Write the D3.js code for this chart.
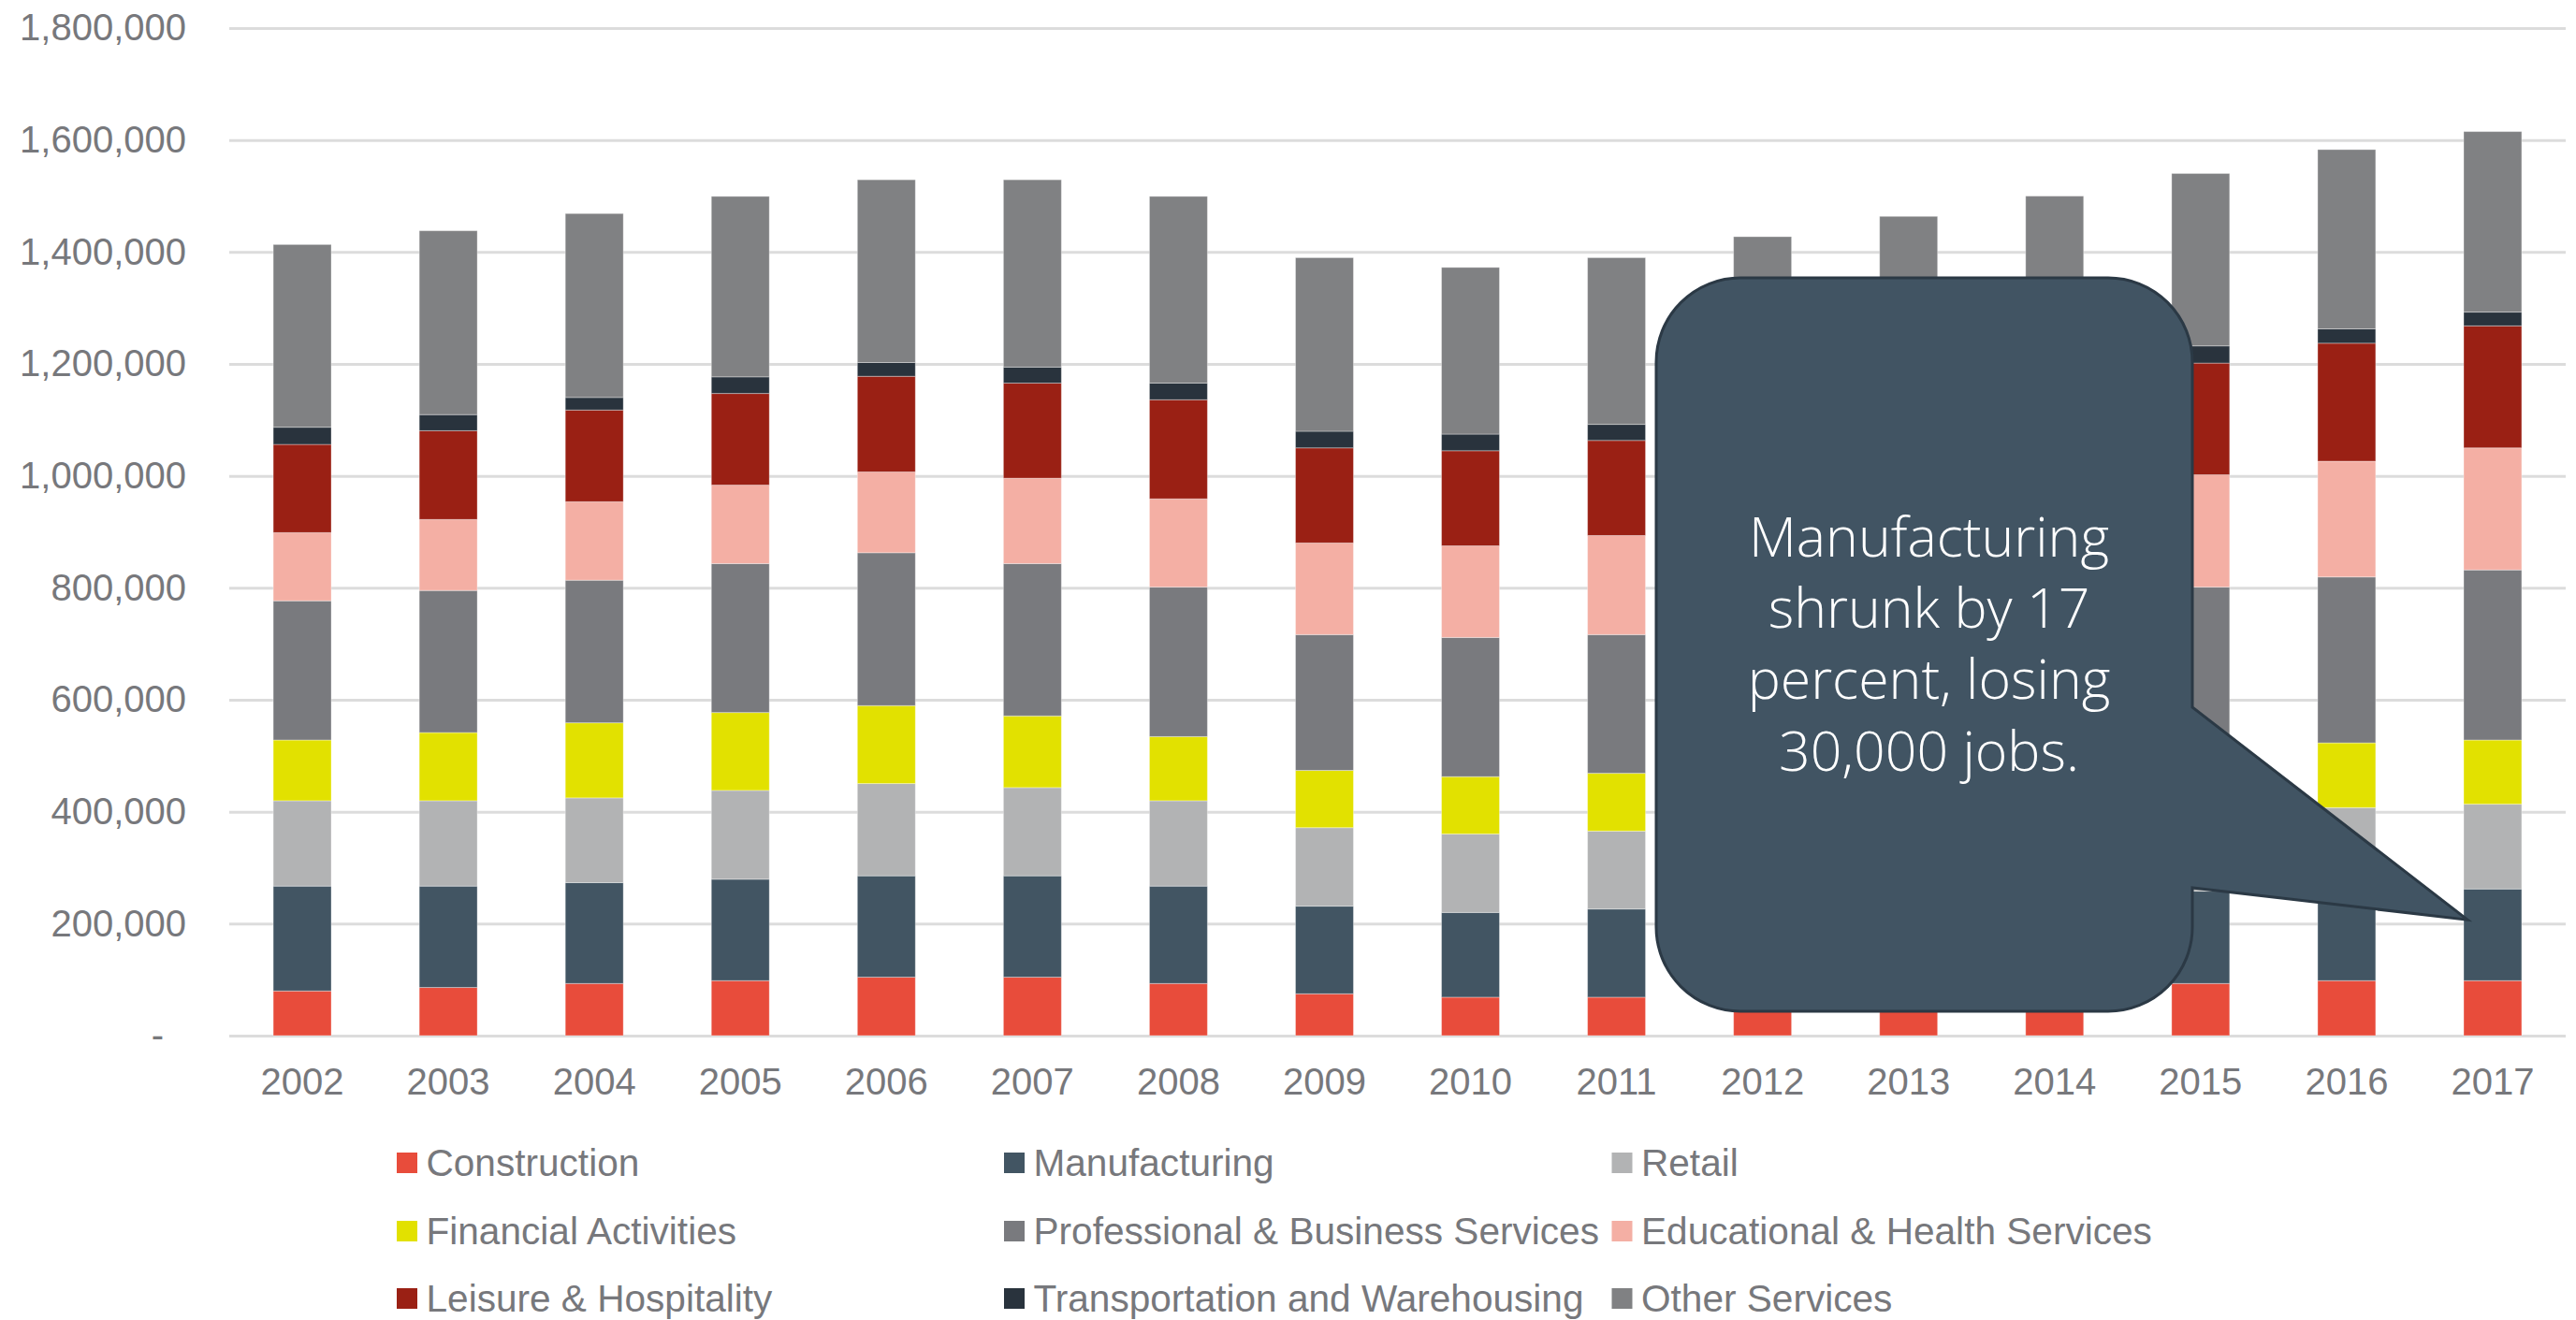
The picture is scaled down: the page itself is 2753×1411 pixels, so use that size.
<!DOCTYPE html>
<html>
<head>
<meta charset="utf-8">
<script src="https://cdn.jsdelivr.net/npm/d3@7"></script>
<style>
  html, body { margin: 0; padding: 0; background: #ffffff; }
  svg { display: block; }
  .tick text { font-family: "Liberation Sans", Arial, sans-serif; }
</style>
</head>
<body>
<svg id="chart" width="2753" height="1411"></svg>
<script>
// Employment by industry, 2002–2017
const years = ["2002","2003","2004","2005","2006","2007","2008","2009","2010","2011","2012","2013","2014","2015","2016","2017"];

const construction   = [79800, 86000, 93100, 98200, 104400, 104400, 93100, 74700, 68600, 68600, 75000, 82000, 88000, 93100, 98200, 98200];
const manufacturing  = [187300, 181100, 180200, 181200, 181100, 181100, 174000, 156600, 151400, 157600, 158000, 160000, 162000, 165000, 163800, 163800];
const retail         = [152500, 152500, 151400, 158600, 164800, 157600, 152500, 140200, 140200, 139200, 141000, 143000, 146000, 148000, 145300, 151500];
const financial      = [108500, 121800, 134100, 139200, 139200, 128000, 114600, 102300, 102400, 103300, 105000, 107000, 109000, 112000, 115700, 114600];
const professional   = [248700, 253800, 254800, 266100, 273200, 272200, 267100, 242600, 248700, 247700, 258000, 266000, 275000, 283200, 296400, 303900];
const educational    = [121800, 126900, 140200, 140200, 144300, 152500, 157600, 163700, 163700, 177000, 182000, 188000, 194000, 200600, 206800, 218000];
const leisure        = [157600, 158600, 163800, 163700, 170900, 169900, 177100, 169900, 169900, 169900, 178000, 185000, 192000, 199600, 210800, 218000];
const transportation = [30700, 28700, 22500, 29700, 24600, 28600, 29700, 29700, 29700, 28700, 29000, 29000, 30000, 30700, 25600, 24600];
const otherServices  = [326400, 328500, 328500, 322400, 326500, 334700, 333600, 310100, 297800, 297800, 301300, 303600, 303800, 308000, 320300, 322500];

const seriesNames = [
  "Construction", "Manufacturing", "Retail",
  "Financial Activities", "Professional & Business Services", "Educational & Health Services",
  "Leisure & Hospitality", "Transportation and Warehousing", "Other Services"
];
const seriesValues = [construction, manufacturing, retail, financial, professional, educational, leisure, transportation, otherServices];
const seriesColors = ["#e84c3b", "#425563", "#b2b3b4", "#e2e100", "#797a7e", "#f4afa4", "#9a2014", "#29333d", "#808183"];

const yTicks = [0, 200000, 400000, 600000, 800000, 1000000, 1200000, 1400000, 1600000, 1800000];

const calloutLines = ["Manufacturing", "shrunk by 17", "percent, losing", "30,000 jobs."];

// rows for the stack layout
const rows = years.map((yr, i) => {
  const r = { year: yr };
  seriesNames.forEach((s, k) => { r[s] = seriesValues[k][i]; });
  return r;
});

const svg = d3.select("#chart");
const plot = { left: 245, right: 2742, top: 30, bottom: 1107 };
const textGray = "#77787c";

const x = d3.scaleBand().domain(years).range([plot.left, plot.right])
  .paddingInner(0.603).paddingOuter(0.3015);
const y = d3.scaleLinear().domain([0, 1800000]).range([plot.bottom, plot.top]);
const color = d3.scaleOrdinal().domain(seriesNames).range(seriesColors);

// gridlines + value labels
const yAxis = svg.append("g")
  .attr("transform", `translate(${plot.left},0)`)
  .call(d3.axisLeft(y).tickValues(yTicks)
    .tickSize(-(plot.right - plot.left))
    .tickPadding(46)
    .tickFormat(d => d === 0 ? "-" : d3.format(",")(d)));
yAxis.select(".domain").remove();
yAxis.selectAll(".tick line").attr("stroke", "#dcdcdc").attr("stroke-width", 3);
yAxis.selectAll(".tick text")
  .attr("fill", textGray).attr("font-size", 40)
  .filter(d => d === 0).attr("x", -70);

// stacked bars
const stacked = d3.stack().keys(seriesNames)(rows);
svg.append("g").selectAll("g").data(stacked).join("g")
  .attr("fill", d => color(d.key))
  .selectAll("rect").data(d => d).join("rect")
  .attr("x", d => x(d.data.year))
  .attr("width", x.bandwidth())
  .attr("y", d => y(d[1]))
  .attr("height", d => y(d[0]) - y(d[1]))
  .attr("stroke", "#ffffff").attr("stroke-opacity", 0.35).attr("stroke-width", 1);

// year labels
const xAxis = svg.append("g")
  .attr("transform", `translate(0,${plot.bottom})`)
  .call(d3.axisBottom(x).tickSize(0).tickPadding(35));
xAxis.select(".domain").remove();
xAxis.selectAll(".tick text").attr("fill", textGray).attr("font-size", 40);

// legend: three columns, filled row by row
const legend = svg.append("g").attr("font-family", "'Liberation Sans', Arial, sans-serif")
  .attr("font-size", 40.6).attr("fill", textGray);
const legCols = [424, 1073, 1722.5];
const legRows = [1257, 1330, 1402];
seriesNames.forEach((s, i) => {
  const gx = legCols[i % 3], gy = legRows[Math.floor(i / 3)];
  legend.append("rect").attr("x", gx).attr("y", gy - 25).attr("width", 22).attr("height", 22)
    .attr("fill", color(s));
  legend.append("text").attr("x", gx + 31.5).attr("y", gy).text(s);
});

// callout bubble pointing at the 2017 manufacturing segment
const box = { x0: 1770, y0: 297, x1: 2343, y1: 1081, r: 90 };
const tip = [x("2017") + 4, y(207000)];
const p = d3.path();
p.moveTo(box.x0 + box.r, box.y0);
p.lineTo(box.x1 - box.r, box.y0);
p.arcTo(box.x1, box.y0, box.x1, box.y0 + box.r, box.r);
p.lineTo(box.x1, 756);
p.lineTo(tip[0], tip[1]);
p.lineTo(box.x1, 949);
p.lineTo(box.x1, box.y1 - box.r);
p.arcTo(box.x1, box.y1, box.x1 - box.r, box.y1, box.r);
p.lineTo(box.x0 + box.r, box.y1);
p.arcTo(box.x0, box.y1, box.x0, box.y1 - box.r, box.r);
p.lineTo(box.x0, box.y0 + box.r);
p.arcTo(box.x0, box.y0, box.x0 + box.r, box.y0, box.r);
p.closePath();
svg.append("path").attr("d", p.toString())
  .attr("fill", "#415463").attr("stroke", "#2b3945").attr("stroke-width", 3)
  .attr("stroke-linejoin", "miter");

const cx = (box.x0 + box.x1) / 2 + 5;
svg.append("g").selectAll("text").data(calloutLines).join("text")
  .attr("x", cx).attr("y", (d, i) => 595 + i * 76.2)
  .attr("text-anchor", "middle")
  .attr("font-family", "'Open Sans', Lato, sans-serif")
  .attr("font-weight", 300)
  .attr("font-size", 59)
  .attr("fill", "#ffffff")
  .text(d => d);
</script>
</body>
</html>
